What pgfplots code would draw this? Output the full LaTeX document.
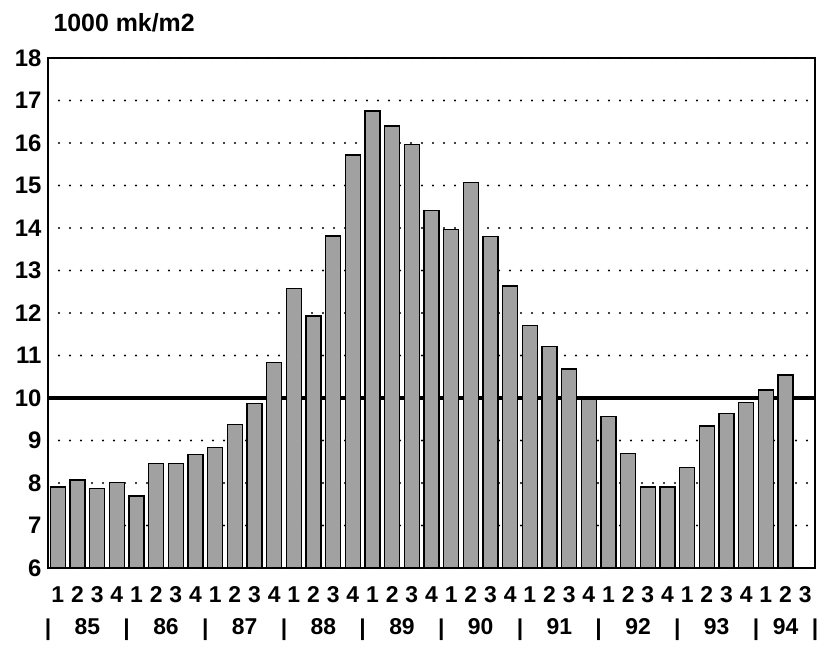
\documentclass[border=0pt]{standalone}
\usepackage{fontspec}
\setmainfont{Liberation Sans}
\usepackage{pgfplots}
\pgfplotsset{compat=1.18}
\usetikzlibrary{calc}

\begin{document}
\begin{tikzpicture}
\begin{axis}[name=ax,
  width=767bp, height=510bp, scale only axis,
  xmin=0.5, xmax=39.5, ymin=6, ymax=18,
  ytick={6,...,18},
  xtick={1,...,39},
  xticklabels={1,2,3,4,1,2,3,4,1,2,3,4,1,2,3,4,1,2,3,4,1,2,3,4,1,2,3,4,1,2,3,4,1,2,3,4,1,2,3},
  extra x ticks={0.5,2.5,4.5,6.5,8.5,10.5,12.5,14.5,16.5,18.5,20.5,22.5,24.5,26.5,28.5,30.5,32.5,34.5,36.5,38,39.5},
  extra x tick labels={|,85,|,86,|,87,|,88,|,89,|,90,|,91,|,92,|,93,|,94,|},
  extra x tick style={major tick length=0pt, tick label style={yshift=-32bp}},
  major tick length=0pt,
  ymajorgrids,
  grid style={black, line width=2.3pt, line cap=round, dash pattern=on 0pt off 11bp},
  axis line style={black, line width=1.6pt},
  /pgf/number format/assume math mode=true,
  yticklabel style={font=\fontsize{24}{24}\selectfont\bfseries, xshift=-3bp},
  xticklabel style={font=\fontsize{23}{23}\selectfont\bfseries, yshift=-15bp},
  clip=true,
]
% reference level
\addplot[black, line width=3.2pt, forget plot] coordinates {(0.5,10) (39.5,10)};
% quarterly values
\addplot[ybar, bar width=0.76, bar shift=0pt, draw=black, line width=1.5pt, fill=black!37]
coordinates {
(1,7.91) (2,8.07) (3,7.87) (4,8.01) (5,7.69) (6,8.46) (7,8.46) (8,8.67)
(9,8.83) (10,9.38) (11,9.87) (12,10.83) (13,12.58) (14,11.93) (15,13.81)
(16,15.72) (17,16.75) (18,16.40) (19,15.97) (20,14.41) (21,13.97) (22,15.07)
(23,13.80) (24,12.64) (25,11.70) (26,11.21) (27,10.68) (28,9.97) (29,9.56)
(30,8.70) (31,7.91) (32,7.91) (33,8.36) (34,9.34) (35,9.64) (36,9.90)
(37,10.19) (38,10.54)
};
\end{axis}
\node[anchor=base west, font=\fontsize{25}{25}\selectfont\bfseries] at ($(ax.north west)+(2bp,26bp)$) {1000 mk/m2};
\pgfresetboundingbox
\path[use as bounding box] ($(ax.south west)+(-48bp,-77bp)$) rectangle ($(ax.north east)+(5bp,58bp)$);
\end{tikzpicture}
\end{document}
